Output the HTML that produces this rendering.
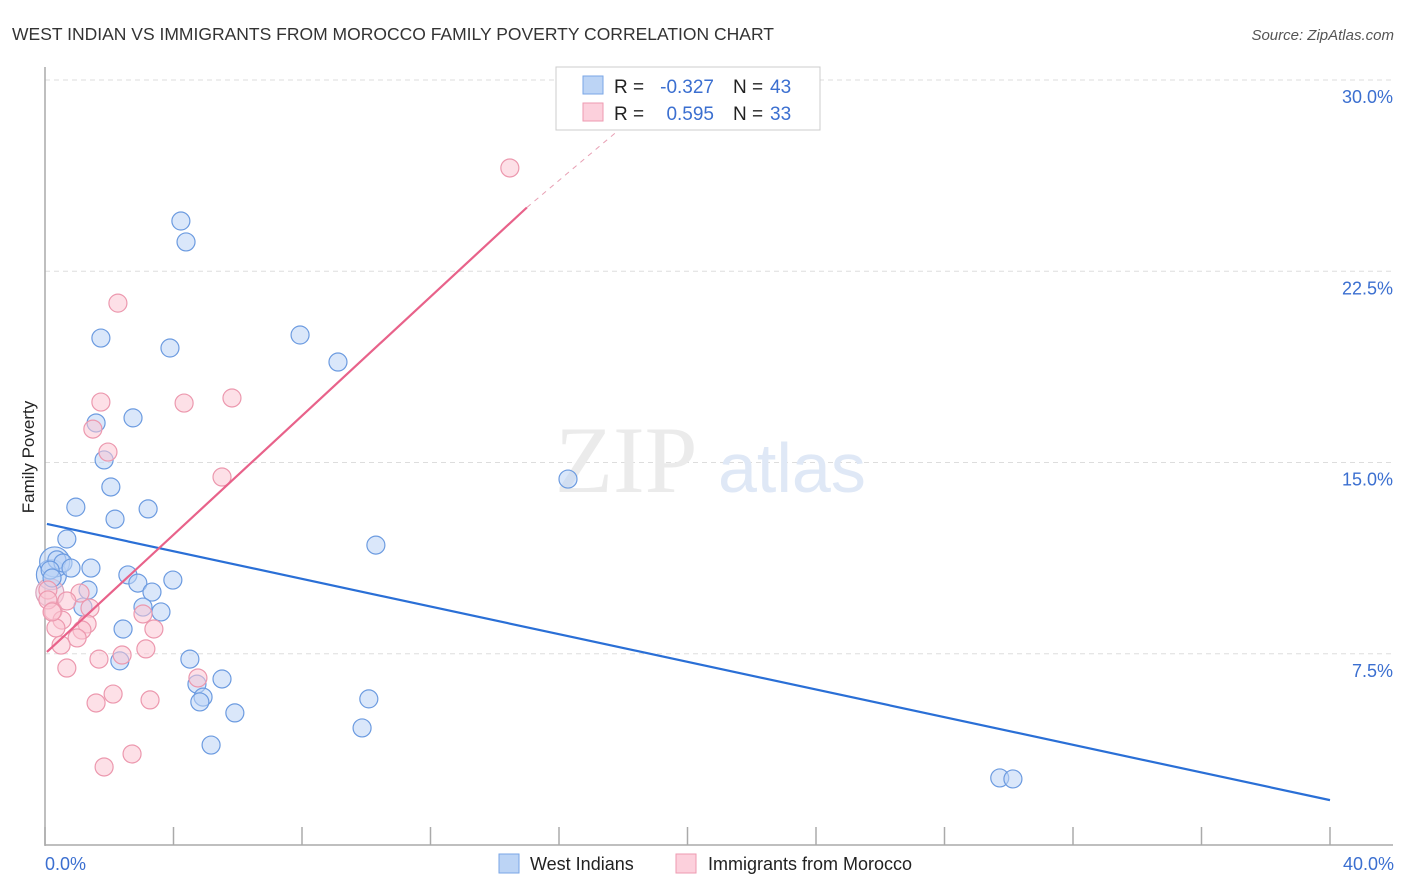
<!DOCTYPE html>
<html><head><meta charset="utf-8"><style>
body{margin:0;background:#fff;font-family:"Liberation Sans",sans-serif}
svg{display:block}
</style></head><body>
<svg width="1406" height="892" xmlns="http://www.w3.org/2000/svg">
<text x="12" y="40" font-size="17.5" fill="#333">WEST INDIAN VS IMMIGRANTS FROM MOROCCO FAMILY POVERTY CORRELATION CHART</text>
<text x="1394" y="40" font-size="15" fill="#555" font-style="italic" text-anchor="end">Source: ZipAtlas.com</text>
<g id="grid"></g>
<text x="555" y="492" font-size="95" font-family="Liberation Serif" fill="#ebebeb">ZIP</text>
<text x="718" y="492" font-size="70" fill="#dfe8f6">atlas</text>
<g id="axes"></g>
<g id="pts"></g>
<g id="trend"></g>
<text transform="translate(34,457) rotate(-90)" font-size="17" fill="#222" text-anchor="middle">Family Poverty</text>
<text x="45" y="870" font-size="18" fill="#3b6fd0">0.0%</text>
<text x="1394" y="870" font-size="18" fill="#3b6fd0" text-anchor="end">40.0%</text>
<g font-size="19">
<rect x="556" y="67" width="264" height="63" fill="#fff" stroke="#ccc"/>
<rect x="583" y="76" width="20" height="18" fill="#bcd4f5" stroke="#7aa6e6"/>
<rect x="583" y="103" width="20" height="18" fill="#fcd0dc" stroke="#ee9ab0"/>
<text x="614" y="93" fill="#222">R =</text>
<text x="714" y="93" fill="#3b6fd0" text-anchor="end">-0.327</text>
<text x="733" y="93" fill="#222">N =</text>
<text x="770" y="93" fill="#3b6fd0">43</text>
<text x="614" y="120" fill="#222">R =</text>
<text x="714" y="120" fill="#3b6fd0" text-anchor="end">0.595</text>
<text x="733" y="120" fill="#222">N =</text>
<text x="770" y="120" fill="#3b6fd0">33</text>
</g>
<g>
<rect x="499" y="854" width="20" height="19" fill="#bcd4f5" stroke="#7aa6e6"/>
<text x="530" y="870" font-size="18" fill="#222">West Indians</text>
<rect x="676" y="854" width="20" height="19" fill="#fcd0dc" stroke="#ee9ab0"/>
<text x="708" y="870" font-size="18" fill="#222">Immigrants from Morocco</text>
</g>
</svg>
<script>
const blueX=[4.23,4.39,1.74,3.89,7.94,9.12,1.59,2.74,1.84,2.05,0.96,3.21,2.18,0.68,10.3,16.28,0.37,0.56,0.81,1.43,0.16,0.22,2.58,2.89,3.98,3.33,1.34,1.18,3.05,3.61,2.43,2.33,4.51,5.51,4.73,4.92,4.82,10.08,5.91,5.17,9.87,29.72,30.13];
const blueY=[24.47,23.65,19.88,19.49,20.0,18.94,16.55,16.75,15.1,14.04,13.25,13.18,12.78,12.0,11.76,14.35,11.18,11.06,10.86,10.86,10.78,10.47,10.59,10.27,10.39,9.92,10.0,9.33,9.33,9.14,8.47,7.22,7.29,6.51,6.31,5.8,5.61,5.73,5.18,3.92,4.59,2.63,2.59];
const pinkX=[14.47,2.27,1.74,4.33,5.82,1.49,1.96,5.51,0.09,1.09,0.25,1.4,0.68,0.53,1.31,0.34,1.15,3.05,3.39,1.0,0.5,3.14,1.68,2.4,0.68,4.76,2.12,1.59,3.27,2.71,1.84,0.09,0.22];
const pinkY=[26.55,21.25,17.37,17.33,17.53,16.31,15.41,14.43,10.0,9.88,9.18,9.29,9.57,8.82,8.67,8.51,8.43,9.06,8.47,8.12,7.84,7.69,7.29,7.45,6.94,6.55,5.92,5.57,5.69,3.57,3.06,9.61,9.14];
const bigBlueX=[0.2,0.3];
const bigBlueY=[10.6,11.1];
const bigPinkX=[0.15];
const bigPinkY=[9.9];
const yTicks=[7.5,15,22.5,30];
const yTickLabels=["7.5%","15.0%","22.5%","30.0%"];
const xTicks=[0,4,8,12,16,20,24,28,32,36,40];
const blueTrend=[[0.06,12.59],[40,1.76]];
const pinkTrend=[[0.06,7.57],[15,25.0]];
const pinkTrendExt=[[15,25.0],[18.2,28.4]];
const NS="http://www.w3.org/2000/svg";
const sx=v=>45+v*32.125, sy=v=>845-v*25.5;
function mk(t,a,p){const e=document.createElementNS(NS,t);for(const k in a)e.setAttribute(k,a[k]);p.appendChild(e);return e;}
const grid=document.getElementById('grid'),axes=document.getElementById('axes'),pts=document.getElementById('pts'),tr=document.getElementById('trend');
yTicks.forEach((v,i)=>{
 const l=mk('line',{x1:45,x2:1393,y1:sy(v),y2:sy(v),stroke:'#ddd','stroke-dasharray':'5,4'},grid);
 
 
 const t=mk('text',{x:1393,y:sy(v)+23,'font-size':18,fill:'#3b6fd0','text-anchor':'end'},grid);
 t.textContent=yTickLabels[i];
 
 
});
mk('line',{x1:45,x2:45,y1:67,y2:846,stroke:'#aaa','stroke-width':1.5},axes);
mk('line',{x1:45,x2:1393,y1:845,y2:845,stroke:'#aaa','stroke-width':1.5},axes);
xTicks.forEach(v=>{const l=mk('line',{x1:sx(v),x2:sx(v),y1:827,y2:845,stroke:'#aaa','stroke-width':1.5},axes);
 
 });
function dots(X,Y,r,fill,stroke,name){X.forEach((x,i)=>{const c=mk('circle',{cx:sx(x),cy:sy(Y[i]),r:r,fill:fill,'fill-opacity':0.55,stroke:stroke,'stroke-width':1.2},pts);
 
 });}
dots(bigBlueX,bigBlueY,15,'#bcd4f5','#6c9be0','west-indian-point-large');
dots(bigPinkX,bigPinkY,14,'#e9c8d8','#d9a3bd','morocco-point-large');
dots(blueX,blueY,9,'#bcd4f5','#6c9be0','west-indian-point');
dots(pinkX,pinkY,9,'#fcc6d4','#ec98ae','morocco-point');
function line(p,col,dash,name){const l=mk('line',{x1:sx(p[0][0]),y1:sy(p[0][1]),x2:sx(p[1][0]),y2:sy(p[1][1]),stroke:col,'stroke-width':dash?1:2.2},tr);
 if(dash)l.setAttribute('stroke-dasharray','5,5');
 
 }
line(blueTrend,'#2a6fd6',false,'west-indian-trend');
line(pinkTrend,'#e8628a',false,'morocco-trend');
line(pinkTrendExt,'#e8a0b4',true,'morocco-trend-extension');
</script>
</body></html>
